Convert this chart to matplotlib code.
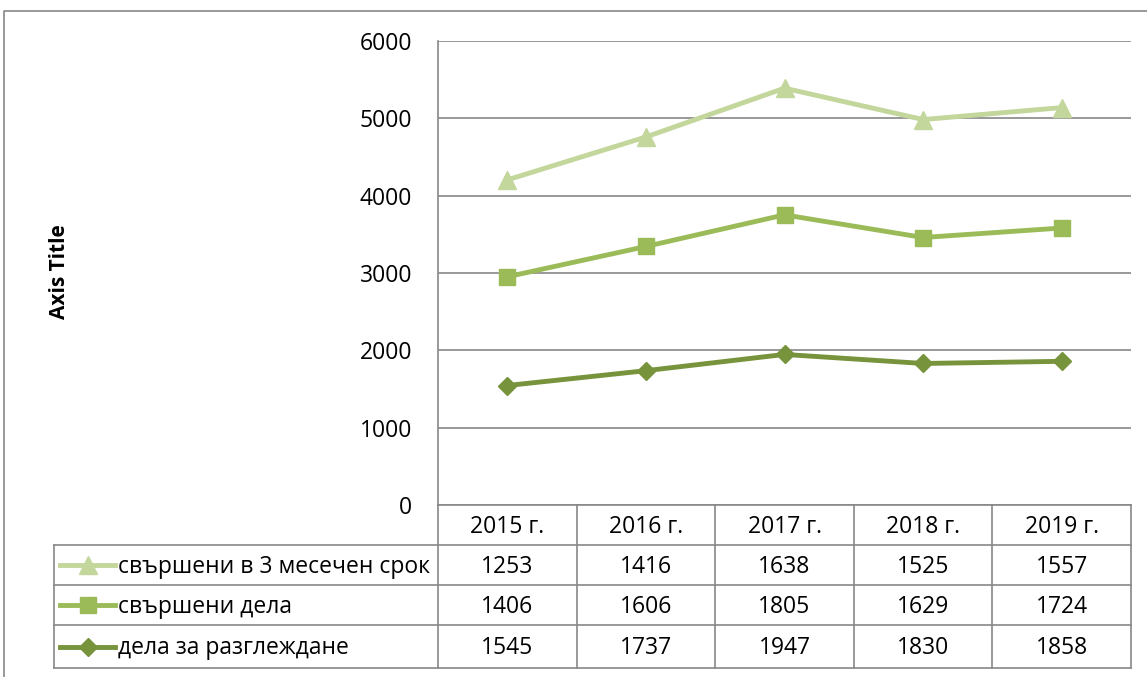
import matplotlib
matplotlib.use("Agg")
import matplotlib.pyplot as plt
from matplotlib.lines import Line2D
import numpy as np

plt.rcParams['font.family'] = ['Open Sans', 'DejaVu Sans']

categories = ["2015 г.", "2016 г.", "2017 г.", "2018 г.", "2019 г."]
series_names = ["свършени в 3 месечен срок", "свършени дела", "дела за разглеждане"]
done_3m = [1253, 1416, 1638, 1525, 1557]
done = [1406, 1606, 1805, 1629, 1724]
pending = [1545, 1737, 1947, 1830, 1858]
y_ticks = [0, 1000, 2000, 3000, 4000, 5000, 6000]

colors = ["#c3d69b", "#9bbb59", "#77933c"]
markers = ["^", "s", "D"]
msizes = [13, 12, 9]
FS = 16.5

W, H = 1147, 677
fig = plt.figure(figsize=(W / 100, H / 100), dpi=100)

# pixel geometry
px_left, px_right, px_top, px_bottom = 438, 1131, 41, 505
ax = fig.add_axes([px_left / W, 1 - px_bottom / H, (px_right - px_left) / W, (px_bottom - px_top) / H])

# stacked values
s1 = np.array(pending)
s2 = s1 + np.array(done)
s3 = s2 + np.array(done_3m)
stacked = [s3, s2, s1]

x = np.arange(len(categories))
for vals, c, m, ms in zip(stacked, colors, markers, msizes):
    ax.plot(x, vals, color=c, lw=3.5, marker=m, markersize=ms, markeredgecolor=c,
            markerfacecolor=c, zorder=3, clip_on=False)

ax.set_xlim(-0.5, len(categories) - 0.5)
ax.set_ylim(0, 6000)
ax.set_yticks(y_ticks)
ax.set_yticklabels([str(v) for v in y_ticks], fontsize=FS)
ax.tick_params(axis='y', length=0, pad=18.5)
ax.set_xticks([])
ax.grid(axis='y', color='#888888', lw=1.2)
ax.set_axisbelow(True)
for s in ['top', 'right', 'bottom']:
    ax.spines[s].set_visible(False)
ax.spines['left'].set_color('#888888')
ax.spines['left'].set_linewidth(1.2)

# overlay in pixel coordinates for the data table
ov = fig.add_axes([0, 0, 1, 1])
ov.set_xlim(0, W)
ov.set_ylim(H, 0)
ov.axis('off')
ov.patch.set_alpha(0)

gc = '#888888'
lw = 1.2
# outer chart border
ov.plot([4, 4, W + 5], [H + 5, 11, 11], color=gc, lw=lw)

row_y = [505, 545, 585, 625, 668]
table_left = 54
col_w = (px_right - px_left) / len(categories)
col_x = [px_left + i * col_w for i in range(len(categories) + 1)]

# horizontal lines
ov.plot([px_left, px_right], [row_y[0], row_y[0]], color=gc, lw=lw)
for yy in row_y[1:]:
    ov.plot([table_left, px_right], [yy, yy], color=gc, lw=lw)
# vertical lines
for xx in col_x:
    ov.plot([xx, xx], [row_y[0], row_y[-1]], color=gc, lw=lw)
ov.plot([table_left, table_left], [row_y[1], row_y[-1]], color=gc, lw=lw)

dy = 2
# header
for i, cat in enumerate(categories):
    ov.text(col_x[i] + col_w / 2, (row_y[0] + row_y[1]) / 2 + dy, cat, ha='center', va='center', fontsize=FS)

rows = [done_3m, done, pending]
for r, (name, vals, c, m, ms) in enumerate(zip(series_names, rows, colors, markers, msizes)):
    yc = (row_y[r + 1] + row_y[r + 2]) / 2
    ov.add_line(Line2D([60, 115], [yc, yc], color=c, lw=3.5))
    ov.plot([87.5], [yc], marker=m, markersize=ms, color=c, markeredgecolor=c)
    ov.text(118, yc + dy, name, ha='left', va='center', fontsize=FS)
    for i, v in enumerate(vals):
        ov.text(col_x[i] + col_w / 2, yc + dy, str(v), ha='center', va='center', fontsize=FS)

fig.text(60 / W, 1 - 272 / H, "Axis Title", rotation=90, ha='center', va='center',
         fontsize=15, fontweight='bold')

fig.savefig("out.png", dpi=100)
